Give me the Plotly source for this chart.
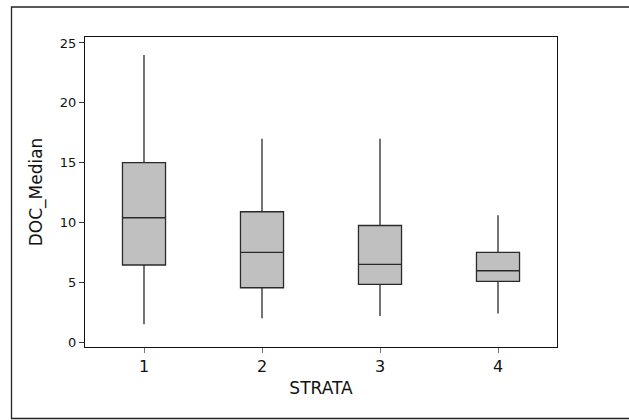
import plotly.graph_objects as go

strata = [1, 2, 3, 4]
upper_whisker = [24.0, 17.0, 17.0, 10.6]
q3 = [15.0, 10.9, 9.75, 7.5]
median = [10.4, 7.5, 6.5, 5.97]
q1 = [6.45, 4.55, 4.83, 5.08]
lower_whisker = [1.5, 2.0, 2.2, 2.4]

y_ticks = [0, 5, 10, 15, 20, 25]

fig = go.Figure()
fig.add_trace(go.Box(
    x=strata,
    q1=q1, median=median, q3=q3,
    lowerfence=lower_whisker, upperfence=upper_whisker,
    fillcolor="#C0C0C0",
    line=dict(color="#2a2a2a", width=1.3),
    width=0.365,
    whiskerwidth=0,
    boxpoints=False,
    showlegend=False,
))

W, H = 629, 420
ml, mt, mr, mb = 85, 37, 72, 73
pw, ph = W - ml - mr, H - mt - mb

def px(x):
    return (x - ml) / pw

def py(y):
    return (H - mb - y) / ph

fig.add_shape(type="rect", xref="paper", yref="paper",
              x0=px(11.5), x1=px(660), y0=py(418.5), y1=py(7),
              line=dict(color="#222222", width=1.3), layer="below")

fig.update_layout(
    width=W, height=H,
    margin=dict(l=ml, r=mr, t=mt, b=mb),
    paper_bgcolor="white", plot_bgcolor="white",
    font=dict(family="DejaVu Sans", color="#111111"),
)
fig.update_xaxes(
    range=[0.5, 4.5], tickvals=strata, ticktext=[str(s) for s in strata],
    showgrid=False, zeroline=False,
    showline=True, mirror=True, linecolor="#111111", linewidth=1.3,
    ticks="outside", ticklen=5, tickcolor="#777777", tickwidth=1,
    tickfont=dict(size=16),
    title=dict(text="STRATA", font=dict(size=17), standoff=6),
)
fig.update_yaxes(
    range=[-0.4, 25.5], tickvals=y_ticks,
    showgrid=False, zeroline=False,
    showline=True, mirror=True, linecolor="#111111", linewidth=1.3,
    ticks="outside", ticklen=5, tickcolor="#333333", tickwidth=1,
    tickfont=dict(size=13),
    title=dict(text="DOC_Median", font=dict(size=17), standoff=12),
)

fig.write_html("out.html",
               config={"displayModeBar": False},
               post_script="document.body.style.margin='0';document.body.style.padding='0';")
